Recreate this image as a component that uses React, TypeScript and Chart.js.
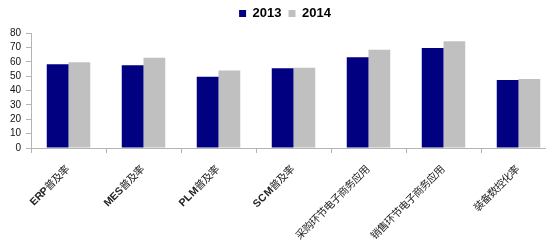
import React, { useEffect, useRef } from "react";
import { Chart, registerables } from "chart.js";

Chart.register(...registerables);

const categories = [
  "ERP普及率",
  "MES普及率",
  "PLM普及率",
  "SCM普及率",
  "采购环节电子商务应用",
  "销售环节电子商务应用",
  "装备数控化率",
];
const series2013 = [58.2, 57.5, 49.6, 55.4, 63.1, 69.6, 47.3];
const series2014 = [59.6, 62.8, 54.0, 55.9, 68.4, 74.2, 48.0];
const seriesLabels = ["2013", "2014"];
const yMin = 0;
const yMax = 80;
const yStep = 10;

const FONT_CSS = `
@font-face {
  font-family: "MixLabel";
  src: local("Liberation Sans Bold"), local("LiberationSans-Bold");
  unicode-range: U+0000-024F;
}
@font-face {
  font-family: "MixLabel";
  src: local("Noto Sans CJK SC"), local("Noto Sans CJK SC Regular"), local("NotoSansCJKsc-Regular"), local("NotoSansCJKSC-Regular");
  unicode-range: U+2E80-9FFF, U+F900-FAFF, U+FF00-FFEF;
}
`;

const legendHeightPlugin = {
  id: "legendHeight",
  afterInit(chart: any) {
    const legend = chart.legend;
    if (!legend) return;
    const origFit = legend.fit.bind(legend);
    legend.fit = function () {
      origFit();
      this.height = 33;
    };
    const origDraw = legend.draw.bind(legend);
    legend.draw = function () {
      const ctx = chart.ctx;
      ctx.save();
      ctx.translate(7, 0);
      origDraw();
      ctx.restore();
    };
  },
};

export default function App() {
  const ref = useRef<HTMLCanvasElement | null>(null);
  useEffect(() => {
    document.body.style.margin = "0";
    let style = document.getElementById("mixlabel-style");
    if (!style) {
      style = document.createElement("style");
      style.id = "mixlabel-style";
      style.textContent = FONT_CSS;
      document.head.appendChild(style);
    }
    let chart: any = null;
    let cancelled = false;
    const build = () => {
      if (cancelled) return;
      const canvas = ref.current;
      if (!canvas) return;
      const axisColor = "#b4b4b4";
      chart = new Chart(canvas, {
        type: "bar",
        data: {
          labels: categories,
          datasets: [
            {
              label: seriesLabels[0],
              data: series2013,
              backgroundColor: "#000080",
              borderWidth: 0,
            },
            {
              label: seriesLabels[1],
              data: series2014,
              backgroundColor: "#c0c0c0",
              borderWidth: 0,
            },
          ],
        },
        options: {
          responsive: false,
          animation: false,
          devicePixelRatio: 1,
          layout: { padding: 0 },
          datasets: {
            bar: { categoryPercentage: 0.58, barPercentage: 1 },
          },
          plugins: {
            tooltip: { enabled: false },
            legend: {
              display: true,
              position: "top",
              align: "center",
              labels: {
                boxWidth: 7,
                boxHeight: 7,
                padding: 7,
                color: "#000",
                font: { family: "'Liberation Sans', Arial, sans-serif", size: 13, weight: "bold" },
              },
            },
          },
          scales: {
            x: {
              grid: {
                display: true,
                offset: true,
                drawOnChartArea: false,
                drawTicks: true,
                tickLength: 5,
                color: axisColor,
              },
              border: { display: true, color: axisColor },
              ticks: {
                autoSkip: false,
                minRotation: 45,
                maxRotation: 45,
                padding: 10,
                color: "#222",
                font: { family: "MixLabel, 'Liberation Sans', 'Noto Sans CJK SC', sans-serif", size: 10.5, weight: "normal" },
              },
              afterFit(scale: any) {
                scale.height = 101;
              },
            },
            y: {
              min: yMin,
              max: yMax,
              grid: {
                display: true,
                drawOnChartArea: false,
                drawTicks: true,
                tickLength: 5,
                color: axisColor,
              },
              border: { display: true, color: axisColor },
              ticks: {
                stepSize: yStep,
                autoSkip: false,
                padding: 5,
                color: "#111",
                font: { family: "'Liberation Sans', Arial, sans-serif", size: 10 },
              },
              afterFit(scale: any) {
                scale.width = 31;
              },
            },
          },
        },
        plugins: [legendHeightPlugin],
      } as any);
    };
    const fonts: any = (document as any).fonts;
    if (fonts && fonts.load) {
      Promise.all([
        fonts.load("10.5px MixLabel", "ERP"),
        fonts.load("10.5px MixLabel", "普及率"),
      ])
        .catch(() => null)
        .then(build);
    } else {
      build();
    }
    return () => {
      cancelled = true;
      if (chart) chart.destroy();
    };
  }, []);
  return (
    <div style={{ width: 546, height: 249, overflow: "hidden", background: "#fff" }}>
      <canvas ref={ref} width={556} height={249} style={{ display: "block" }} />
    </div>
  );
}
